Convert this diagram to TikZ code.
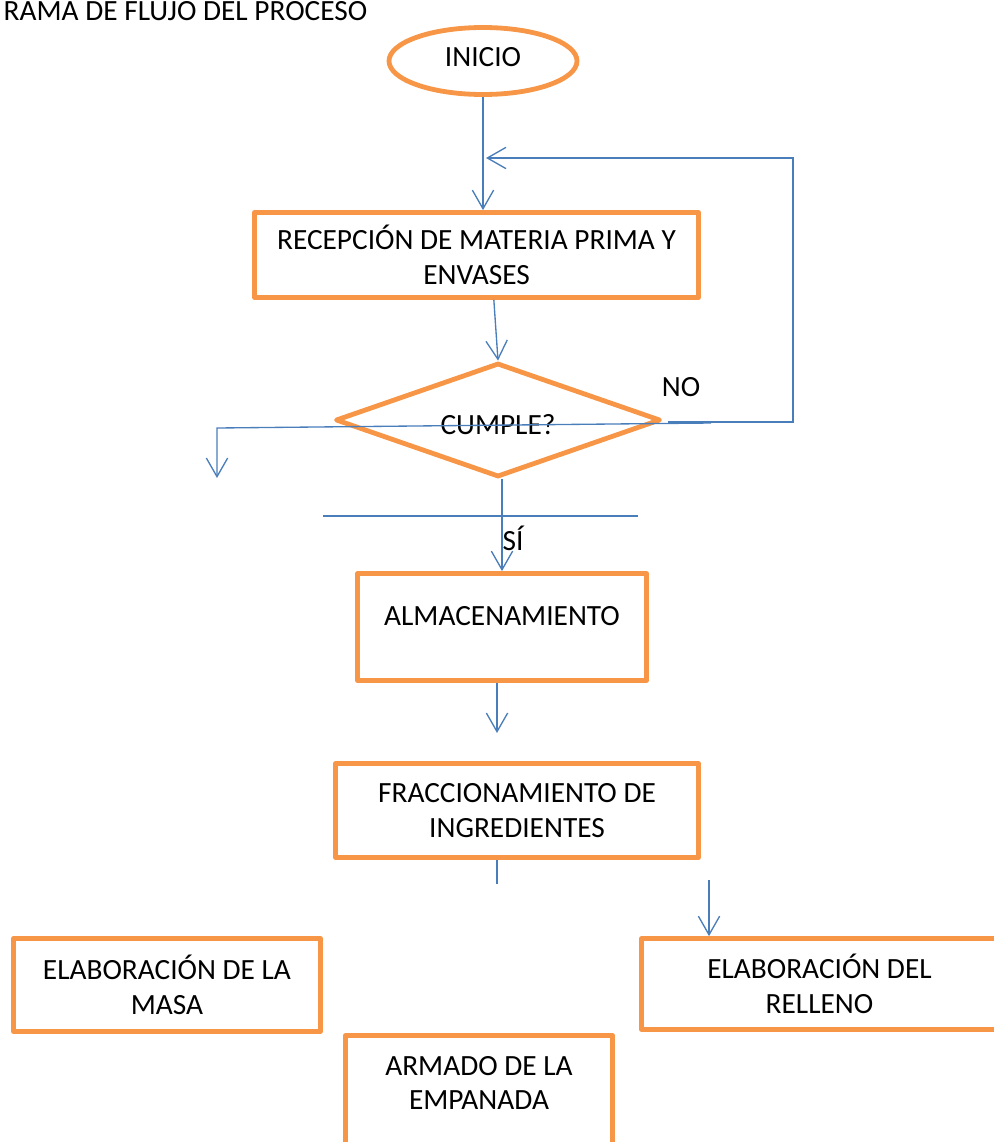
\documentclass[tikz,border=0pt]{standalone}
\usepackage{fontspec}
\setmainfont{Carlito}
\usepackage{xcolor}
\usetikzlibrary{shapes.geometric, arrows.meta}

\definecolor{naranja}{HTML}{F79646}
\definecolor{azul}{HTML}{4A7EBB}

\begin{document}
\begin{tikzpicture}[x=0.75pt, y=-0.75pt,
		font=\fontsize{22}{26}\selectfont,
		caja/.style={draw=naranja, line width=3.6pt, line join=round, align=center, inner sep=0pt},
		linea/.style={draw=azul, line width=1pt},
		flecha/.style={linea, -{Straight Barb[length=14pt, width=16pt]}}]
		\useasboundingbox (0,0) rectangle (994,1142);
		
		\node[anchor=base west] (titulo) at (-1,21) {RAMA DE FLUJO DEL PROCESO};
		
		\node[caja, ellipse, minimum width={188*0.75pt}, minimum height={67*0.75pt}, text depth=6pt] (inicio) at (483,61) {INICIO};
		\node[caja, minimum width={444*0.75pt}, minimum height={85*0.75pt}] (recepcion) at (476.5,255) {RECEPCIÓN DE MATERIA PRIMA Y\\ENVASES};
		\node[caja, diamond, aspect=3, minimum width={325*0.75pt}, minimum height={114*0.75pt}, text height=22pt] (cumple) at (498,420) {CUMPLE?};
		\node[caja, minimum width={289*0.75pt}, minimum height={107*0.75pt}, text depth=16pt] (almac) at (502,627) {ALMACENAMIENTO};
		\node[caja, minimum width={363*0.75pt}, minimum height={94*0.75pt}] (fracc) at (517,810.5) {FRACCIONAMIENTO DE\\INGREDIENTES};
		\node[caja, minimum width={307*0.75pt}, minimum height={93*0.75pt}] (masa) at (167,985) {ELABORACIÓN DE LA\\MASA};
		\node[caja, minimum width={356*0.75pt}, minimum height={91*0.75pt}] (relleno) at (819.5,984) {ELABORACIÓN DEL\\RELLENO};
		\node[caja, minimum width={267*0.75pt}, minimum height={115*0.75pt}, text depth=15pt] (armado) at (479,1093) {ARMADO DE LA\\EMPANADA};
		
		\node (etiqno) at (681,387) {NO};
		\node (etiqsi) at (513,538) {SÍ};
		
		\coordinate (retorno) at (486,158);
		\coordinate (esquina) at (793,158);
		\coordinate (no) at (668,422);
		\coordinate (cruce) at (711,423);
		\coordinate (bajada) at (217,428);
		\coordinate (finizq) at (217,478);
		\coordinate (trazo1) at (323,516);
		\coordinate (trazo2) at (638,516);
		\coordinate (fin3) at (497,733);
		\coordinate (corte) at (497,884);
		\coordinate (inicio4) at (709,880);
		
		%conectores
		\draw[flecha] (inicio.south) -- (inicio.south |- recepcion.north);
		\draw[flecha] ([xshift=13pt]recepcion.south) -- (cumple.north);
		\draw[flecha] (no) -- (no -| esquina) -- (esquina) -- (retorno);
		\draw[flecha] (cruce) -- (bajada) -- (finizq);
		\draw[flecha] (almac.north |- cumple.south) -- (almac.north);
		\draw[linea] (trazo1) -- (trazo2);
		\draw[flecha] (almac.south -| fin3) -- (fin3);
		\draw[linea] (fracc.south -| corte) -- (corte);
		\draw[flecha] (inicio4) -- (inicio4 |- relleno.north);
	\end{tikzpicture}
\end{document}
